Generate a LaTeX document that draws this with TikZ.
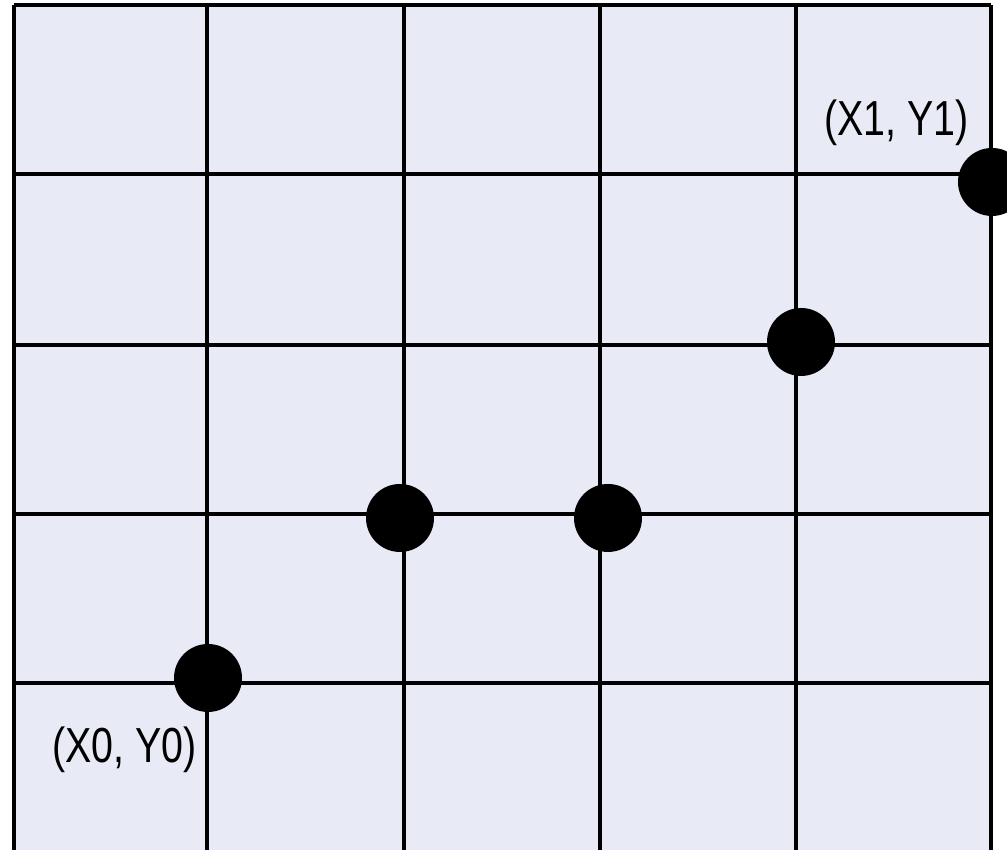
\documentclass[tikz,border=0pt]{standalone}
\usepackage{xcolor}
\usepackage{fontspec}
\usepackage{tikz}
\usetikzlibrary{positioning}
\newfontfamily\labelfont[FakeStretch=0.8]{Liberation Sans}
\definecolor{cellfill}{RGB}{232,235,245}
\definecolor{ink}{RGB}{0,0,0}

\begin{document}
\begin{tikzpicture}[
  gridline/.style={draw=ink, line width=0.9pt},
  dot/.style={circle, fill=ink, inner sep=0pt, minimum size=0.68cm},
  coord/.style={font=\labelfont\fontsize{14}{16}\selectfont, inner sep=0pt}
]
  \useasboundingbox (0,0) rectangle (10.07,8.5);
  \clip (0,0) rectangle (10.07,8.5);
  \fill[cellfill] (0.14,0) rectangle (9.91,8.45);
  % vertical and horizontal lines
  \foreach \x in {0.14,2.07,4.04,6.00,7.96,9.91}
    \draw[gridline] (\x,0) -- (\x,8.45);
  \foreach \y in {8.45,6.76,5.05,3.36,1.67}
    \draw[gridline] (0.14,\y) -- (9.91,\y);
  % points
  \node[dot] (p0) at (2.08,1.72) {};
  \node[dot] (p1) at (4.00,3.32) {};
  \node[dot] (p2) at (6.08,3.32) {};
  \node[dot] (p3) at (8.01,5.08) {};
  \node[dot] (p4) at (9.92,6.68) {};
  \node[coord] (start) at (1.245,1.0) {(X0, Y0)};
  \node[coord] (end) at (8.965,7.27) {(X1, Y1)};
\end{tikzpicture}
\end{document}
